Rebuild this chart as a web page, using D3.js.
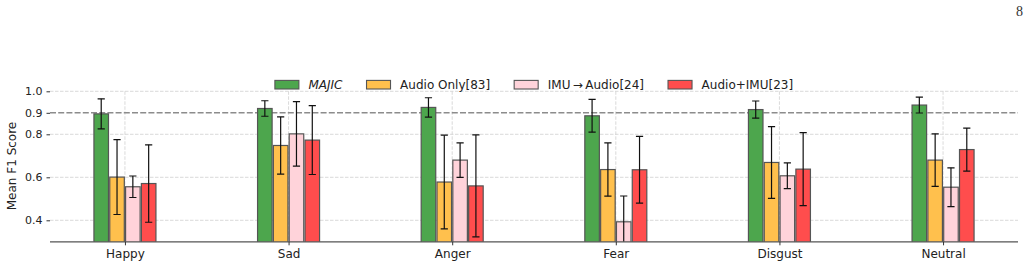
<!DOCTYPE html>
<html>
<head>
<meta charset="utf-8">
<script src="https://cdn.jsdelivr.net/npm/d3@7"></script>
<style>
  body { margin: 0; background: #fff; }
  svg { display: block; font-family: "DejaVu Sans", sans-serif; }
</style>
</head>
<body>
<svg id="chart"></svg>
<script>
const categories = ["Happy", "Sad", "Anger", "Fear", "Disgust", "Neutral"];
const seriesNames = ["MAJIC", "Audio Only[83]", "IMU\u2009\u2192\u2009Audio[24]", "Audio+IMU[23]"];

const majic = [0.895, 0.920, 0.925, 0.886, 0.915, 0.936];
const majicErr = [0.070, 0.036, 0.045, 0.076, 0.040, 0.037];
const audioOnly = [0.601, 0.748, 0.578, 0.636, 0.669, 0.680];
const audioOnlyErr = [0.174, 0.133, 0.218, 0.124, 0.167, 0.122];
const imuAudio = [0.556, 0.802, 0.680, 0.393, 0.607, 0.554];
const imuAudioErr = [0.050, 0.150, 0.080, 0.120, 0.060, 0.090];
const audioImu = [0.571, 0.773, 0.560, 0.635, 0.638, 0.729];
const audioImuErr = [0.180, 0.160, 0.237, 0.155, 0.170, 0.100];

const yTicks = [0.4, 0.6, 0.8, 0.9, 1.0];
const gridTicks = [0.4, 0.6, 0.8, 1.0];
const refValue = 0.9;

const colors = ["#4da64d", "#ffc04d", "#ffd3da", "#ff4d4d"];
const values = [majic, audioOnly, imuAudio, audioImu];
const errors = [majicErr, audioOnlyErr, imuAudioErr, audioImuErr];

const W = 1032, H = 269;
const pLeft = 50, pRight = 1018, pTop = 91.3, pBottom = 241.8;

const svg = d3.select("#chart").attr("width", W).attr("height", H);

const x = d3.scaleLinear().domain([-0.458, 5.458]).range([pLeft, pRight]);
const y = d3.scaleLinear().domain([0.3, 1.0]).range([pBottom, pTop]);
const band = d3.scaleBand().domain(d3.range(4)).range([-31, 31]).paddingInner(0.08);

svg.append("defs").append("clipPath").attr("id", "clip")
  .append("rect").attr("x", pLeft).attr("y", pTop - 20).attr("width", pRight - pLeft).attr("height", pBottom - pTop + 20);

// grid
const grid = svg.append("g");
grid.selectAll(".hg").data(gridTicks).enter().append("line")
  .attr("x1", pLeft).attr("x2", pRight)
  .attr("y1", d => y(d)).attr("y2", d => y(d))
  .attr("stroke", "#d0d0d0").attr("stroke-width", 0.8).attr("stroke-dasharray", "3.5,1.5");
grid.selectAll(".vg").data(categories).enter().append("line")
  .attr("x1", (d, i) => x(i)).attr("x2", (d, i) => x(i))
  .attr("y1", pTop).attr("y2", pBottom)
  .attr("stroke", "#d0d0d0").attr("stroke-width", 0.8).attr("stroke-dasharray", "3.5,1.5");

// reference line
svg.append("line")
  .attr("x1", pLeft).attr("x2", pRight)
  .attr("y1", y(refValue)).attr("y2", y(refValue))
  .attr("stroke", "#8c8c8c").attr("stroke-width", 1.4).attr("stroke-dasharray", "6,2.2");

const plot = svg.append("g").attr("clip-path", "url(#clip)");

values.forEach((vals, s) => {
  const g = plot.append("g");
  g.selectAll("rect").data(vals).enter().append("rect")
    .attr("x", (d, i) => x(i) + band(s))
    .attr("width", band.bandwidth())
    .attr("y", d => y(d))
    .attr("height", d => y(0.3) - y(d) + 2)
    .attr("fill", colors[s])
    .attr("stroke", "#555")
    .attr("stroke-width", 1.2);
});

values.forEach((vals, s) => {
  const g = plot.append("g").attr("stroke", "#111").attr("stroke-width", 1.2);
  vals.forEach((v, i) => {
    const cx = x(i) + band(s) + band.bandwidth() / 2;
    const e = errors[s][i];
    g.append("line").attr("x1", cx).attr("x2", cx).attr("y1", y(v + e)).attr("y2", y(v - e));
    [v + e, v - e].forEach(t => {
      g.append("line").attr("x1", cx - 3.6).attr("x2", cx + 3.6).attr("y1", y(t)).attr("y2", y(t));
    });
  });
});

// x axis
const xAxis = d3.axisBottom(x).tickValues(d3.range(categories.length))
  .tickFormat(i => categories[i]).tickSize(3.5).tickPadding(4).tickSizeOuter(0);
const gx = svg.append("g").attr("transform", `translate(0,${pBottom})`).call(xAxis);
gx.select(".domain").attr("d", `M${pLeft},0H${pRight}`).attr("stroke", "#555").attr("stroke-width", 1.2);
gx.selectAll(".tick line").attr("stroke", "#333");
gx.selectAll(".tick text").attr("font-size", 12).attr("fill", "#222")
  .attr("font-family", "DejaVu Sans");

// y axis
const yAxis = d3.axisLeft(y).tickValues(yTicks).tickFormat(d3.format(".1f")).tickSize(3.5).tickPadding(4);
const gy = svg.append("g").attr("transform", `translate(${pLeft},0)`).call(yAxis);
gy.select(".domain").remove();
gy.selectAll(".tick line").attr("stroke", "#333");
gy.selectAll(".tick text").attr("font-size", 11).attr("fill", "#222")
  .attr("font-family", "DejaVu Sans");

svg.append("text")
  .attr("transform", `translate(15.7,166) rotate(-90)`)
  .attr("text-anchor", "middle")
  .attr("font-size", 12).attr("fill", "#222")
  .text("Mean F1 Score");

// legend
const fs = 12, handle = 24, pad = 9.6, colSpace = 24;
const legend = svg.append("g");
const items = seriesNames.map((name, i) => {
  const g = legend.append("g");
  g.append("rect").attr("x", 0).attr("y", 80.4).attr("width", handle).attr("height", 8.6)
    .attr("fill", colors[i]).attr("stroke", "#555").attr("stroke-width", 1.1);
  const t = g.append("text").attr("x", handle + pad).attr("y", 88.6)
    .attr("font-size", fs).attr("fill", "#222").text(name);
  if (i === 0) t.attr("font-style", "italic");
  return { g, w: handle + pad + t.node().getComputedTextLength() };
});
const total = d3.sum(items, d => d.w) + colSpace * (items.length - 1);
let lx = (pLeft + pRight) / 2 - total / 2;
items.forEach(it => {
  it.g.attr("transform", `translate(${lx},0)`);
  lx += it.w + colSpace;
});

// page number
svg.append("text")
  .attr("x", 1016).attr("y", 16)
  .attr("font-family", "Liberation Serif, serif").attr("font-size", 14)
  .attr("fill", "#333").text("8");
</script>
</body>
</html>
